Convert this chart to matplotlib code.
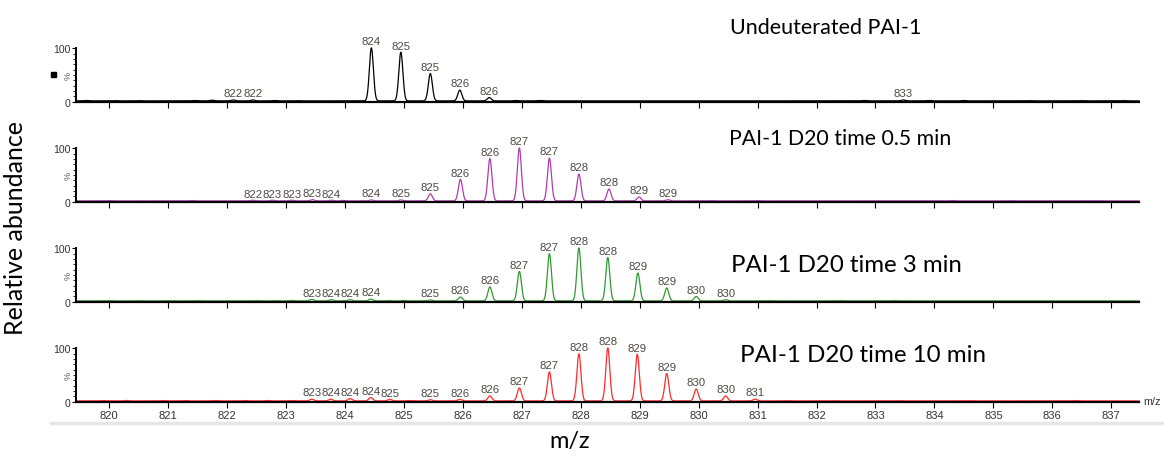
import numpy as np
import matplotlib.pyplot as plt
from matplotlib.lines import Line2D
from matplotlib.patches import Rectangle
import matplotlib.transforms as mtransforms

# ---- data: peak centroids (m/z) and heights (%) ----
mz_min, mz_max = 819.44, 837.47

titles = ['Undeuterated PAI-1', 'PAI-1 D20 time 0.5 min',
          'PAI-1 D20 time 3 min', 'PAI-1 D20 time 10 min']
colors = ['black', '#b03cb0', '#2f9a2f', '#ff2b2b']

# labelled peaks
p1_mz = [822.11, 822.44, 824.45, 824.95, 825.45, 825.95, 826.45, 833.47]
p1_h = [2.5, 2.5, 100, 92, 52, 21, 7, 2.5]
p2_mz = [822.44, 822.77, 823.10, 823.45, 823.77, 824.45, 824.95, 825.45,
         825.96, 826.46, 826.96, 827.47, 827.97, 828.48, 828.99, 829.48]
p2_h = [2, 2, 2, 3, 2, 2.5, 2.5, 14, 41, 80, 100, 81, 51, 23, 8, 3]
p3_mz = [823.44, 823.77, 824.09, 824.44, 825.45, 825.96, 826.46, 826.96,
         827.47, 827.97, 828.46, 828.97, 829.46, 829.96, 830.46]
p3_h = [3.5, 3, 3, 4, 2.5, 8, 27, 56, 89, 100, 82, 53, 25, 9, 3]
p4_mz = [823.44, 823.76, 824.09, 824.44, 824.76, 825.45, 825.95, 826.46,
         826.96, 827.47, 827.97, 828.46, 828.96, 829.46, 829.96, 830.46, 830.96]
p4_h = [4, 4, 5, 7, 3.5, 3, 3.5, 10, 25, 55, 89, 100, 88, 52, 23, 10, 4]

# small unlabelled bumps in the baseline
b1_mz = [819.6, 820.1, 820.5, 821.45, 821.75, 822.8, 823.2, 826.9, 827.3,
         832.8, 833.9, 834.5, 835.6, 836.5, 837.2]
b1_h = [1.5, 1.2, 1.2, 1.5, 2, 1.5, 1.2, 1.5, 1.5, 1.5, 1.5, 1.5, 1.2, 1.2, 1.2]
b2_mz = [820.0, 821.4, 823.95, 830.2, 831.0, 834.3, 835.3, 836.8]
b2_h = [1.2, 1.5, 1.5, 1.2, 1.2, 1.5, 1.2, 1.0]
b3_mz = [820.0, 820.5, 821.0, 821.5, 822.5, 822.8, 823.1, 824.75, 825.0,
         831.2, 832.4, 833.3]
b3_h = [1.2, 1.2, 1.2, 1.2, 1.2, 1.2, 1.5, 1.5, 1.5, 1.2, 1.2, 1.2]
b4_mz = [819.9, 820.3, 820.9, 821.3, 821.8, 822.3, 822.7, 823.1, 825.1,
         831.5, 832.3, 833.4, 834.6, 836.4]
b4_h = [1.5, 1.5, 1.5, 1.5, 1.5, 1.5, 1.5, 1.5, 1.5, 1.2, 1.2, 1.2, 1.2, 1.5]

peaks = [(p1_mz, p1_h, b1_mz, b1_h), (p2_mz, p2_h, b2_mz, b2_h),
         (p3_mz, p3_h, b3_mz, b3_h), (p4_mz, p4_h, b4_mz, b4_h)]

xticks = list(range(820, 838))

# ---- figure ----
W, H = 1164, 460
fig = plt.figure(figsize=(W / 100, H / 100), dpi=100)

ax_left, ax_right = 76, 1139
panel_top = [49.3, 149.3, 249.3, 349.3]
panel_h = 53.4
sigma = 0.034
base = 1.5
x = np.linspace(mz_min, mz_max, 6000)

# centre x, centre y, font size (pixels from top-left)
title_pos = [(826, 28, 15.5), (840, 139, 15.3), (846, 266, 17.3), (863, 356, 17.4)]
lab_font = ['Liberation Sans Narrow', 'Liberation Sans', 'DejaVu Sans']
tick_font = ['Liberation Sans', 'DejaVu Sans']

for k in range(4):
    top = panel_top[k]
    ax = fig.add_axes([ax_left / W, 1 - (top + panel_h) / H,
                       (ax_right - ax_left) / W, panel_h / H])
    pm, ph, bm, bh = peaks[k]
    y = np.full_like(x, base)
    for c, h in zip(list(pm) + list(bm), list(ph) + list(bh)):
        y = y + (h - base * 0.5) * np.exp(-(x - c) ** 2 / (2 * sigma ** 2))
    ax.plot(x, y, color=colors[k], lw=0.9, clip_on=False)
    for c, h in zip(pm, ph):
        ax.annotate(f'{c:.0f}', xy=(c, h + base * 0.5), xytext=(0, 1.2),
                    textcoords='offset points', ha='center', va='bottom',
                    fontsize=8.2, family=lab_font, color='#4f4843',
                    annotation_clip=False)

    ax.set_xlim(mz_min, mz_max)
    ax.set_ylim(0, 100)
    for s in ['top', 'right']:
        ax.spines[s].set_visible(False)
    ax.spines['left'].set_linewidth(1.4)
    ax.spines['bottom'].set_linewidth(1.6)
    ax.set_xticks(xticks)
    ax.set_yticks([0, 100])
    ax.set_yticks(np.arange(10, 100, 10), minor=True)
    ax.tick_params(axis='y', which='major', length=3, width=0.8, pad=1,
                   labelsize=7.6, labelcolor='#333333')
    ax.tick_params(axis='y', which='minor', length=2, width=0.6)
    ax.tick_params(axis='x', length=4, width=0.8, pad=2,
                   labelsize=8, labelcolor='#333333')
    for lab in ax.get_xticklabels() + ax.get_yticklabels():
        lab.set_family(tick_font)
    if k < 3:
        ax.set_xticklabels([])
    ax.patch.set_visible(False)

    trans = mtransforms.blended_transform_factory(fig.transFigure, ax.transData)
    ax.text(68 / W, 50, '%', transform=trans, rotation=90, fontsize=6.5,
            family=tick_font, color='#555555', ha='center', va='center')

    tx, ty, tfs = title_pos[k]
    fig.text(tx / W, 1 - ty / H, titles[k], ha='center', va='center',
             fontsize=tfs, family='Lato', color='black')

    if k == 3:
        ax.text(1143 / W, 1.5, 'm/z', transform=trans, fontsize=7.8,
                family=lab_font, color='#333333', ha='left', va='center')

# small black marker left of the top panel
fig.add_artist(Rectangle((51 / W, 1 - 77.5 / H), 5 / W, 5 / H,
                         transform=fig.transFigure, color='black'))
# light separator below tick labels
fig.add_artist(Line2D([51 / W, 1], [1 - 424 / H, 1 - 424 / H],
                      transform=fig.transFigure, color='#e6e6e6', lw=2.5))

fig.text(16 / W, 1 - 228 / H, 'Relative abundance', rotation=90,
         ha='center', va='center', fontsize=18, family='Lato')
fig.text(570 / W, 1 - 442 / H, 'm/z', ha='center', va='center',
         fontsize=17, family='Lato')

fig.savefig('out.png', dpi=100)
